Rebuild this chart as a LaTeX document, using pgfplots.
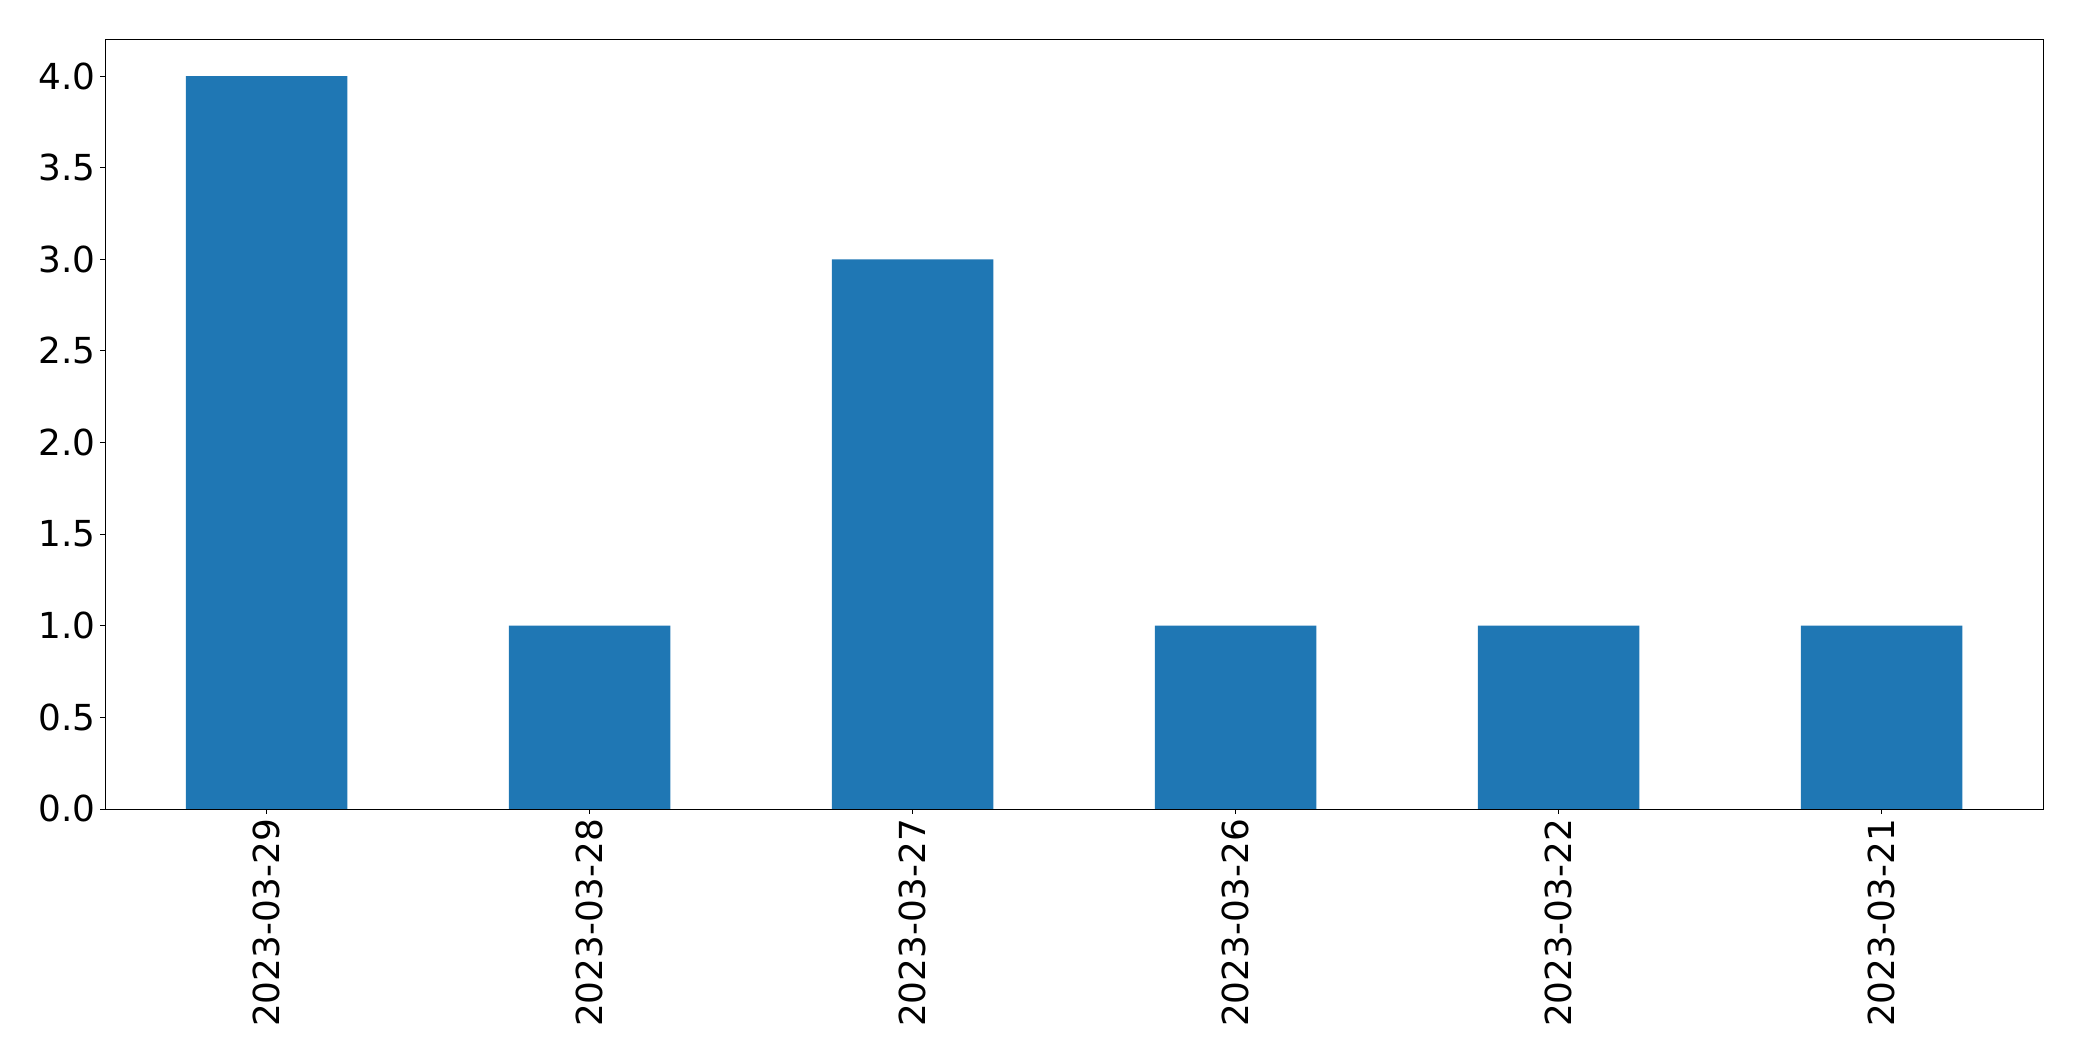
\documentclass[border=0pt]{standalone}
\usepackage{pgfplots}
\pgfplotsset{compat=1.18}
\usepackage{fontspec}
\setmainfont{DejaVu Sans}
\definecolor{mplblue}{HTML}{1F77B4}
\begin{document}
\begin{tikzpicture}
\path[use as bounding box] (-75.6pt,-181.4pt) rectangle (1423.4pt,582.4pt);
\begin{axis}[
  at={(0pt,0pt)}, anchor=south west,
  scale only axis,
  width=1395.4pt, height=554pt,
  xmin=-0.5, xmax=5.5, ymin=0, ymax=4.2,
  xtick={0,1,2,3,4,5},
  xticklabels={2023-03-29,2023-03-28,2023-03-27,2023-03-26,2023-03-22,2023-03-21},
  ytick={0,0.5,1,1.5,2,2.5,3,3.5,4},
  yticklabel style={/pgf/number format/fixed,/pgf/number format/precision=1,/pgf/number format/fixed zerofill},
  /pgf/number format/assume math mode=true,
  ticklabel style={font=\fontsize{25.8}{30}\selectfont, black},
  xticklabel style={rotate=90, anchor=east},
  tick align=outside,
  xtick pos=left, ytick pos=left,
  major tick length=3.5pt,
  tick style={black, line width=0.6pt},
  axis line style={black, line width=0.6pt},
  ybar, bar width=0.5, bar shift=0pt,
]
\addplot[fill=mplblue, draw=none] coordinates {(0,4) (1,1) (2,3) (3,1) (4,1) (5,1)};
\end{axis}
\end{tikzpicture}
\end{document}
